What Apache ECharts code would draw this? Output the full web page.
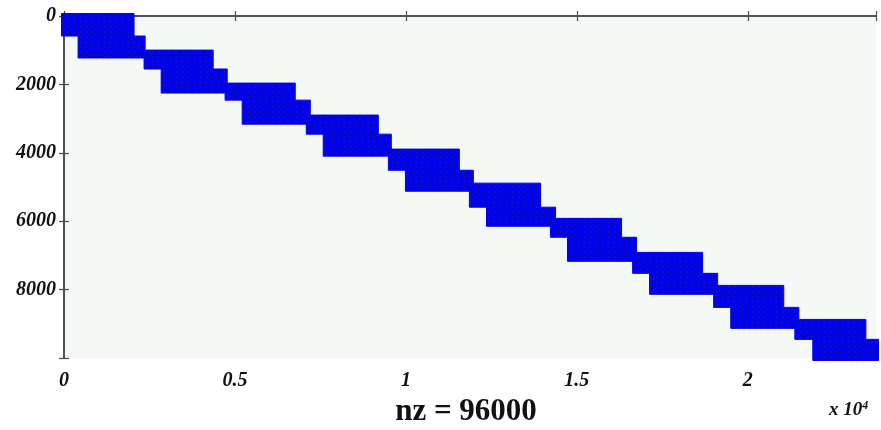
<!DOCTYPE html>
<html>
<head>
<meta charset="utf-8">
<script src="https://cdn.jsdelivr.net/npm/echarts@6/dist/echarts.min.js"></script>
<style>
html,body{margin:0;padding:0;background:#fff;}
#chart{width:881px;height:430px;}
</style>
</head>
<body>
<div id="chart"></div>
<script>
// Matrix size and labels
const nRows = 10000;
const nCols = 23750;
const xTickValues = [0, 5000, 10000, 15000, 20000];
const xTickLabels = ['0', '0.5', '1', '1.5', '2'];
const yTickValues = [0, 2000, 4000, 6000, 8000];
const nzLabel = 'nz = 96000';

// Nonzero block extents (one entry per diagonal block)
const blockTopRow    = [0,    1070, 2035, 2970, 3965, 4960, 5990, 6985, 7950, 8945];
const blockStepRow   = [585,  1550, 2460, 3455, 4510, 5590, 6470, 7525, 8520, 9455];
const blockBottomRow = [1155, 2180, 3090, 4025, 5050, 6075, 7100, 8065, 9060, 9999];
const upperLeftCol   = [0,    2415, 4785, 7160, 9560, 11930, 14300, 16705, 19075, 21450];
const upperRightCol  = [1975, 4290, 6690, 9120, 11490, 13865, 16235, 18605, 20980, 23380];
const lowerLeftCol   = [485,  2915, 5285, 7655, 10060, 12430, 14800, 17200, 19575, 21975];
const lowerRightCol  = [2300, 4700, 7130, 9500, 11900, 14305, 16675, 19045, 21420, 23750];

const blocks = blockTopRow.map((t, i) => [
  upperLeftCol[i], upperRightCol[i], lowerLeftCol[i], lowerRightCol[i],
  t, blockStepRow[i], blockBottomRow[i]
]);

// texture pattern resembling dense spy markers
function makePattern() {
  const c = document.createElement('canvas');
  c.width = 6; c.height = 5;
  const g = c.getContext('2d');
  g.fillStyle = '#0000f4';
  g.fillRect(0, 0, 6, 5);
  g.fillStyle = '#1c1c88';
  g.fillRect(2, 1, 1, 2);
  g.fillStyle = '#0a0ad0';
  g.fillRect(5, 4, 1, 1);
  return c;
}

const chart = echarts.init(document.getElementById('chart'), null, { renderer: 'canvas' });
const tickFont = {
  fontFamily: 'Liberation Serif', fontWeight: 'bold', fontStyle: 'italic',
  fontSize: 20, color: '#111'
};
const axisLine = { show: true, lineStyle: { color: '#4a4a4a', width: 1.6 } };
const axisTick = { show: true, inside: true, length: 5, lineStyle: { color: '#4a4a4a', width: 1.2 } };

const r = 2.5; // marker radius in px

const option = {
  animation: false,
  backgroundColor: '#ffffff',
  grid: {
    left: 64, right: 5, top: 16, bottom: 72,
    show: true, backgroundColor: '#f4f9f6', borderWidth: 0
  },
  xAxis: [
    {
      type: 'value', min: 0, max: nCols, interval: 5000, position: 'bottom',
      axisLine, axisTick, splitLine: { show: false },
      axisLabel: Object.assign({}, tickFont, {
        margin: 13,
        formatter: v => { const i = xTickValues.indexOf(v); return i >= 0 ? xTickLabels[i] : ''; }
      })
    },
    {
      type: 'value', min: 0, max: nCols, interval: 5000, position: 'top',
      axisLine, axisTick, splitLine: { show: false }, axisLabel: { show: false }
    }
  ],
  yAxis: [
    {
      type: 'value', min: 0, max: nRows, interval: 2000, inverse: true, position: 'left',
      axisLine, axisTick, splitLine: { show: false },
      axisLabel: Object.assign({}, tickFont, {
        margin: 8,
        formatter: v => (yTickValues.indexOf(v) >= 0 ? String(v) : '')
      })
    },
    {
      type: 'value', min: 0, max: nRows, interval: 2000, inverse: true, position: 'right',
      axisLine, axisTick, splitLine: { show: false }, axisLabel: { show: false }
    }
  ],
  series: [{
    type: 'custom',
    clip: false,
    xAxisIndex: 0, yAxisIndex: 0,
    data: blocks,
    z: 1,
    itemStyle: { color: { image: makePattern(), repeat: 'repeat' } },
    renderItem: function (params, api) {
      const L = api.value(0), UR = api.value(1), LL = api.value(2), ER = api.value(3);
      const T = api.value(4), S = api.value(5), B = api.value(6);
      const p = (c, rr) => api.coord([c, rr]);
      const xL = p(L, 0)[0] - r, xUR = p(UR, 0)[0] + r, xLL = p(LL, 0)[0] - r, xER = p(ER, 0)[0] + r;
      const yT = p(0, T)[1] - r, yS = p(0, S)[1], yB = p(0, B)[1] + r;
      const st = api.style();
      st.stroke = '#0000ee';
      st.lineWidth = 1;
      return {
        type: 'polygon',
        shape: { points: [[xL, yT], [xUR, yT], [xUR, yS], [xER, yS], [xER, yB], [xLL, yB], [xLL, yS], [xL, yS]] },
        style: st
      };
    }
  }],
  graphic: [
    {
      type: 'text', x: 466, y: 396,
      style: { text: nzLabel, textAlign: 'center', fontFamily: 'Liberation Serif', fontWeight: 'bold', fontSize: 31, fill: '#111' }
    },
    {
      type: 'text', x: 829, y: 400,
      style: {
        text: '{b|x 10}{s|4}',
        rich: {
          b: { fontFamily: 'Liberation Serif', fontWeight: 'bold', fontStyle: 'italic', fontSize: 19, fill: '#111' },
          s: { fontFamily: 'Liberation Serif', fontWeight: 'bold', fontStyle: 'italic', fontSize: 12, fill: '#111', verticalAlign: 'top', padding: [0, 0, 9, 0] }
        }
      }
    }
  ]
};
chart.setOption(option);
</script>
</body>
</html>
